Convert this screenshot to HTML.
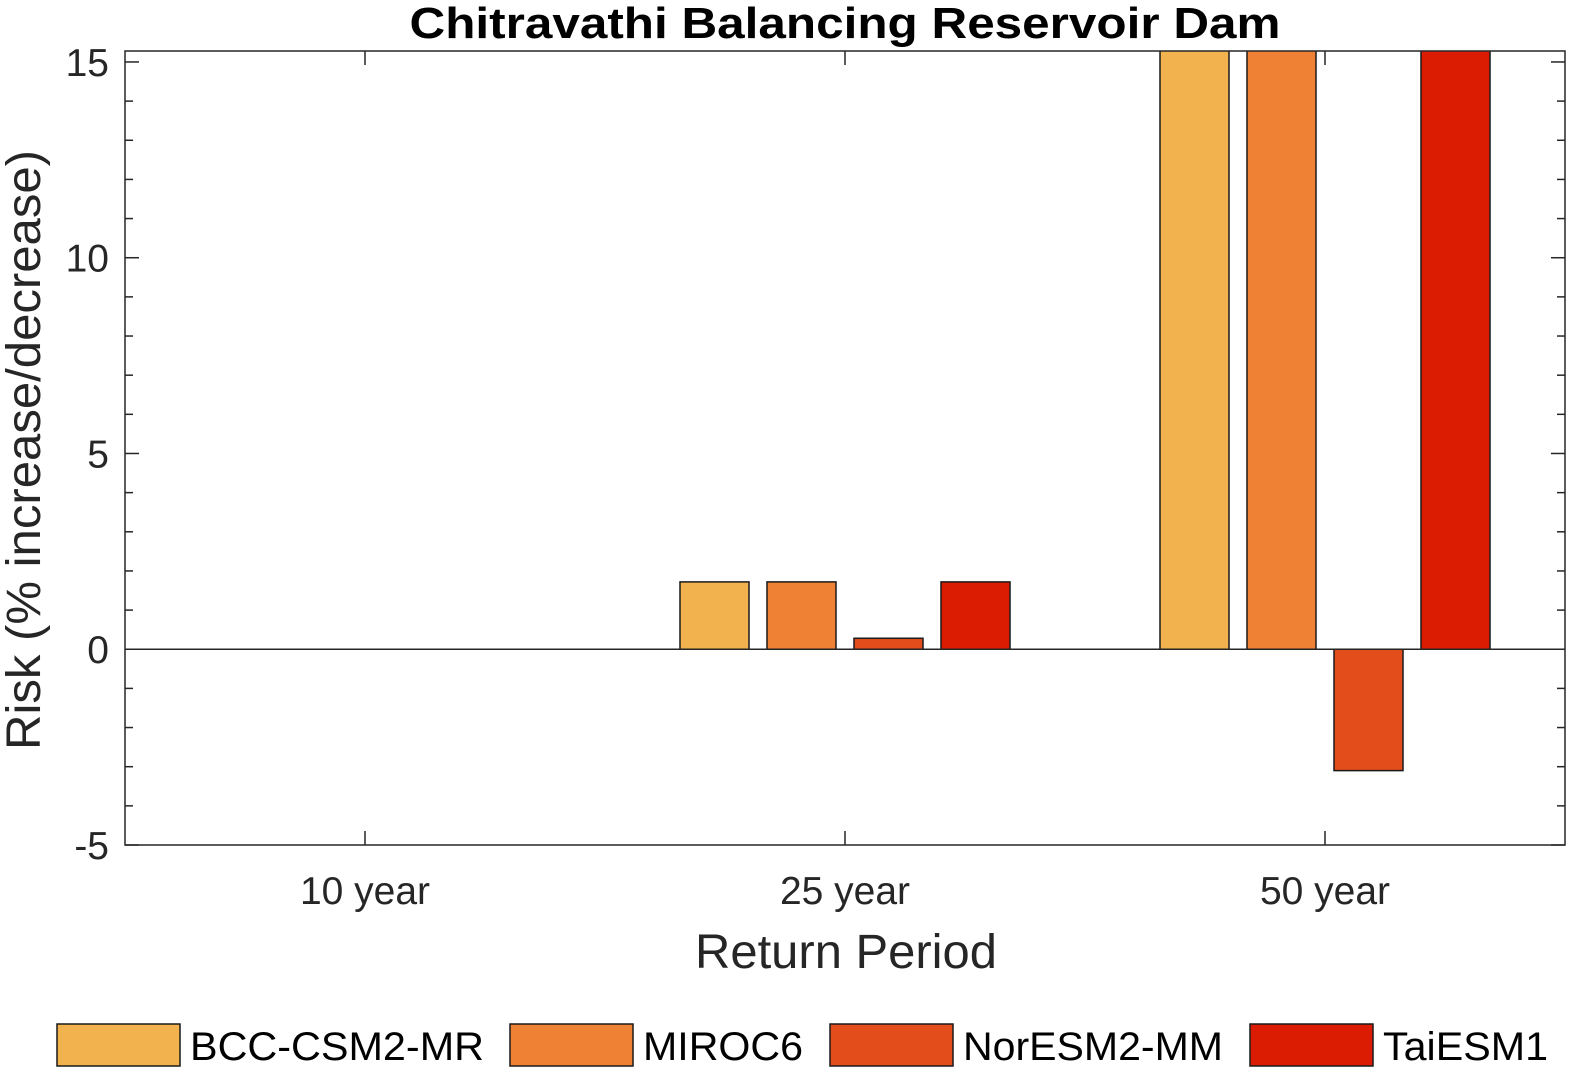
<!DOCTYPE html>
<html><head><meta charset="utf-8"><style>
body{margin:0;background:#fff;}
svg text{font-family:"Liberation Sans",Arial,sans-serif;fill:#262626;}
</style></head><body>
<svg id="chart" width="1582" height="1078" xmlns="http://www.w3.org/2000/svg">
<text x="845" y="38" text-anchor="middle" font-size="44" font-weight="bold" textLength="871" lengthAdjust="spacingAndGlyphs" style="fill:#000">Chitravathi Balancing Reservoir Dam</text>
<defs><clipPath id="pc"><rect x="125" y="51" width="1440" height="794"/></clipPath></defs>
<g id="bars" clip-path="url(#pc)"></g>
<g id="axes"></g>
<text x="846" y="968" text-anchor="middle" font-size="48" textLength="302" lengthAdjust="spacingAndGlyphs">Return Period</text>
<text transform="translate(40,450) rotate(-90)" text-anchor="middle" font-size="48" textLength="600" lengthAdjust="spacingAndGlyphs">Risk (% increase/decrease)</text>
<g id="legend"></g>
</svg>
<script>
const categories=["10 year","25 year","50 year"];
const seriesNames=["BCC-CSM2-MR","MIROC6","NorESM2-MM","TaiESM1"];
const colors=["#F2B24E","#EE8133","#E34D1B","#DC1C02"];
const bcc=[0,1.72,20];
const miroc=[0,1.72,20];
const noresm=[0,0.28,-3.1];
const taiesm=[0,1.72,20];
const yTicks=[-5,0,5,10,15];
const series=[bcc,miroc,noresm,taiesm];
const NS="http://www.w3.org/2000/svg";
const L=125,R=1565,T=51,B=845,ymin=-5,ymax=15.28,xmin=0.5,xmax=3.5;
const xs=v=>L+(v-xmin)/(xmax-xmin)*(R-L);
const ys=v=>B-(v-ymin)/(ymax-ymin)*(B-T);
function mk(tag,attrs,parent){const e=document.createElementNS(NS,tag);for(const k in attrs)e.setAttribute(k,attrs[k]);parent.appendChild(e);return e;}
const bars=document.getElementById('bars'),axes=document.getElementById('axes'),leg=document.getElementById('legend');
const step=87/480,bw=69/480;
series.forEach((s,si)=>{s.forEach((v,ci)=>{
  const c=xs(ci+1+(si-1.5)*step);const w=bw*(R-L)/(xmax-xmin);
  const y0=ys(0),y1=ys(v);
  const r=mk('rect',{x:c-w/2,y:Math.min(y0,y1),width:w,height:Math.abs(y1-y0),fill:colors[si],stroke:'#1a1a1a','stroke-width':1.5},bars);
  
  
});});
mk('line',{x1:L,x2:R,y1:ys(0),y2:ys(0),stroke:'#262626','stroke-width':1.5},axes);
const frame=mk('rect',{x:L,y:T,width:R-L,height:B-T,fill:'none',stroke:'#262626','stroke-width':1.5},axes);


for(let v=-5;v<=15;v++){const y=ys(v);const len=yTicks.includes(v)?14:8;
  mk('line',{x1:L,x2:L+len,y1:y,y2:y,stroke:'#262626','stroke-width':1.5},axes);
  mk('line',{x1:R,x2:R-len,y1:y,y2:y,stroke:'#262626','stroke-width':1.5},axes);}
yTicks.forEach(v=>{const t=mk('text',{x:L-16,y:ys(v)+14,'text-anchor':'end','font-size':39},axes);t.textContent=v;
  
  });
categories.forEach((c,i)=>{const x=xs(i+1);
  mk('line',{x1:x,x2:x,y1:B,y2:B-14,stroke:'#262626','stroke-width':1.5},axes);
  mk('line',{x1:x,x2:x,y1:T,y2:T+14,stroke:'#262626','stroke-width':1.5},axes);
  const t=mk('text',{x:x,y:904,'text-anchor':'middle','font-size':39},axes);t.textContent=c;
  
  });
const lx=[57,510,830,1250];
const lw=[294,160,260,165];
seriesNames.forEach((n,i)=>{
  const g=mk('g',{},leg);
  
  
  mk('rect',{x:lx[i],y:1024,width:123,height:42,fill:colors[i],stroke:'#1a1a1a','stroke-width':1.5},g);
  const t=mk('text',{x:lx[i]+133,y:1060,'font-size':40,textLength:lw[i],lengthAdjust:'spacingAndGlyphs'},g);t.textContent=n;t.style.fill='#000';});
</script>
</body></html>
